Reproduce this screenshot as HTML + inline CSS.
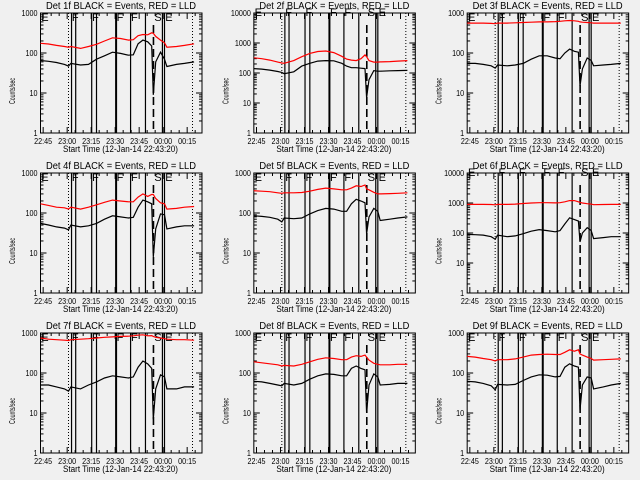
<!DOCTYPE html>
<html><head><meta charset="utf-8"><style>
html,body{margin:0;padding:0;background:#f0f0f0}
svg{display:block}
text{font-family:"Liberation Sans",sans-serif;fill:#000}
</style></head><body>
<svg id="chart" width="640" height="480" viewBox="0 0 640 480" xmlns="http://www.w3.org/2000/svg">
<rect width="640" height="480" fill="#f0f0f0"/>
</svg>
<script>
// minutes after 22:43:20
const times = [0,5,10,15,17.5,19,25,30,35,40,45,50,55,58,61,64,67,69.5,70.5,72,75,77.5,79,85,90,96];
const detNames = ["1f","2f","3f","4f","5f","6f","7f","8f","9f"];
const yMaxDecades = [3,4,3,3,3,4,3,3,3];
const black1 = [65,62,58,52,47,55,50,52,70,85,105,98,88,90,170,210,190,150,9,60,105,70,46,52,55,60];
const red1 = [175,168,155,145,140,145,130,145,165,200,240,230,210,215,270,290,285,320,310,260,210,180,140,145,155,170];
const black2 = [140,135,125,112,105,95,110,170,210,250,260,255,210,170,150,150,145,140,15,60,120,115,115,118,120,122];
const red2 = [320,300,270,230,215,210,260,350,450,520,540,480,360,290,270,260,300,400,350,260,230,230,235,240,250,260];
const black3 = [55,55,52,48,42,50,48,50,55,70,85,85,75,72,100,125,110,105,15,40,75,65,48,50,52,55];
const red3 = [560,560,560,550,540,560,560,570,580,590,600,600,610,620,640,650,640,620,600,590,580,570,560,560,560,560];
const black4 = [55,50,45,42,38,50,45,48,55,70,85,80,75,78,140,210,190,170,8,40,95,90,40,45,48,48];
const red4 = [170,155,140,135,125,140,125,140,160,185,210,200,190,190,250,300,260,290,290,230,180,170,125,130,140,145];
const black5 = [85,82,78,70,60,75,72,75,95,115,130,125,110,110,170,220,200,180,30,80,130,110,65,70,75,80];
const red5 = [360,350,340,320,310,320,320,325,350,390,420,400,380,380,420,480,460,500,400,380,330,300,300,305,310,320];
const black6 = [90,88,85,75,62,85,75,80,95,115,130,120,110,120,200,320,280,250,50,100,150,120,65,70,75,75];
const red6 = [900,900,900,890,870,900,900,920,960,1000,1020,1020,1010,1020,1100,1200,1200,1100,1050,1000,950,920,880,890,900,900];
const black7 = [50,50,45,40,35,45,40,50,60,75,85,80,75,80,140,200,170,130,7,40,90,80,40,40,45,45];
const red7 = [750,700,680,660,650,680,700,720,750,780,800,820,830,850,880,900,850,860,820,780,750,720,700,680,680,660];
const black8 = [62,60,55,50,48,55,50,55,70,85,95,92,85,85,130,150,130,120,10,50,95,80,50,52,55,55];
const red8 = [190,180,170,160,150,155,150,165,190,220,240,230,215,215,250,270,260,280,250,210,175,165,160,160,165,165];
const black9 = [62,60,55,48,38,52,50,52,65,80,90,88,80,82,140,170,150,140,12,50,80,75,40,45,50,55];
const red9 = [260,250,230,215,200,215,215,225,250,280,290,295,290,290,330,380,350,380,300,280,250,230,210,215,220,225];
const blackSeries = [black1,black2,black3,black4,black5,black6,black7,black8,black9];
const redSeries = [red1,red2,red3,red4,red5,red6,red7,red8,red9];
const xTickMinutes = [1.667,16.667,31.667,46.667,61.667,76.667,91.667];
const xTickLabels = ["22:45","23:00","23:15","23:30","23:45","00:00","00:15"];
const solidMarks = [19.4,22,32,35,47,47.5,56.3,65.6,76.2,77.5];
const dottedMarks = [17.5,95];
const dashedMarks = [70.6];
const markLetters = ["E","F","F","F","F","S","E"];
const letterMinutes = [0.5,19.6,32.3,47.6,56.6,71.2,78];

const NS="http://www.w3.org/2000/svg";
const svg=document.getElementById('chart');
function mk(tag,attrs,parent,text){const e=document.createElementNS(NS,tag);for(const k in attrs)e.setAttribute(k,attrs[k]);if(text!==undefined)e.textContent=text;parent.appendChild(e);return e;}

for(let p=0;p<9;p++){
  const ox=[0,213.33,426.67][p%3], oy=[0,160,320][Math.floor(p/3)];
  const L=ox+40.5,R=ox+202,T=oy+13,B=oy+133;
  const dec=yMaxDecades[p];
  const xs=m=>L+m*1.6;
  const ys=v=>B-Math.log10(Math.max(v,1))/dec*(B-T);
  const g=mk('g',{},svg);
  
  
  const title=mk('text',{x:ox+46,y:oy+9,'font-size':'10',textLength:150,lengthAdjust:'spacingAndGlyphs'},g,'Det '+detNames[p]+' BLACK = Events, RED = LLD');
  
  
  const frame=mk('rect',{x:L,y:T,width:R-L,height:B-T,fill:'none',stroke:'#000','stroke-width':1},g);
  
  
  for(let d=0;d<=dec;d++){
    const y=ys(Math.pow(10,d));
    mk('line',{x1:L,x2:L+6,y1:y,y2:y,stroke:'#000'},g);
    mk('line',{x1:R,x2:R-6,y1:y,y2:y,stroke:'#000'},g);
    const s=String(Math.pow(10,d));
    const tl=mk('text',{x:L-3-s.length*4,y:y+3,'font-size':'8',textLength:s.length*4,lengthAdjust:'spacingAndGlyphs'},g,s);
    
    
    if(d<dec)for(let k=2;k<10;k++){const yy=ys(k*Math.pow(10,d));
      mk('line',{x1:L,x2:L+3,y1:yy,y2:yy,stroke:'#000'},g);
      mk('line',{x1:R,x2:R-3,y1:yy,y2:yy,stroke:'#000'},g);}
  }
  xTickMinutes.forEach((m,i)=>{const x=xs(m);
    mk('line',{x1:x,x2:x,y1:B,y2:B-6,stroke:'#000'},g);
    mk('line',{x1:x,x2:x,y1:T,y2:T+6,stroke:'#000'},g);
    const tl=mk('text',{x:x-9,y:B+11,'font-size':'8',textLength:18,lengthAdjust:'spacingAndGlyphs'},g,xTickLabels[i]);
    
    
    for(let k=1;k<3;k++){const xm=xs(m+5*k);if(xm<R){
      mk('line',{x1:xm,x2:xm,y1:B,y2:B-3,stroke:'#000'},g);
      mk('line',{x1:xm,x2:xm,y1:T,y2:T+3,stroke:'#000'},g);}}
  });
  const xt=mk('text',{x:ox+63,y:oy+152,'font-size':'9',textLength:115,lengthAdjust:'spacingAndGlyphs'},g,'Start Time (12-Jan-14 22:43:20)');
  
  
  const yt=mk('text',{x:-13,y:0,'font-size':'8',textLength:26,lengthAdjust:'spacingAndGlyphs',transform:'translate('+(ox+15)+','+(oy+91)+') rotate(-90)'},g,'Counts/sec');
  
  
  solidMarks.forEach(m=>{const l=mk('line',{x1:xs(m),x2:xs(m),y1:T,y2:B,stroke:'#000','stroke-width':1.2},g);
    
    });
  dottedMarks.forEach(m=>{const l=mk('line',{x1:xs(m),x2:xs(m),y1:T,y2:B,stroke:'#000','stroke-dasharray':'1,2'},g);
    
    });
  dashedMarks.forEach(m=>{const l=mk('line',{x1:xs(m),x2:xs(m),y1:T+12,y2:B,stroke:'#000','stroke-width':1.6,'stroke-dasharray':'8,4'},g);
    
    });
  markLetters.forEach((c,i)=>{const t=mk('text',{x:xs(letterMinutes[i]),y:T+(dec===4?3:8),'font-size':'11'},g,c);
    
    });
  const pts=arr=>arr.map((v,i)=>xs(times[i]).toFixed(1)+','+ys(v).toFixed(1)).join(' ');
  const rl=mk('polyline',{points:pts(redSeries[p]),fill:'none',stroke:'#ff0000','stroke-width':1.2},g);
  
  
  const bl=mk('polyline',{points:pts(blackSeries[p]),fill:'none',stroke:'#000','stroke-width':1.2},g);
  
  
}
</script>
</body></html>
